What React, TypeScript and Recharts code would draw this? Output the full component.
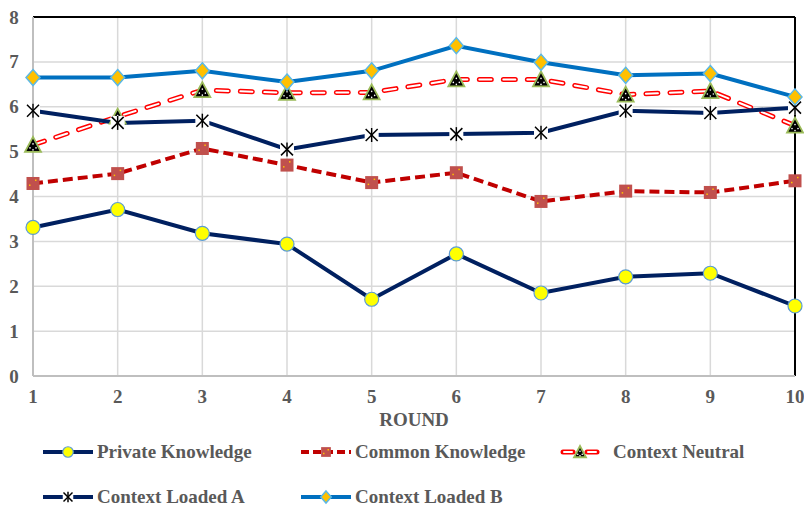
import { LineChart, Line, XAxis, YAxis, CartesianGrid, ReferenceLine, Legend } from 'recharts';

const rounds = [1, 2, 3, 4, 5, 6, 7, 8, 9, 10];
const privateKnowledge = [3.31, 3.71, 3.18, 2.94, 1.71, 2.72, 1.85, 2.21, 2.29, 1.56];
const commonKnowledge = [4.29, 4.51, 5.07, 4.70, 4.31, 4.53, 3.89, 4.12, 4.09, 4.35];
const contextNeutral = [5.15, 5.78, 6.37, 6.31, 6.32, 6.61, 6.61, 6.27, 6.35, 5.58];
const contextLoadedA = [5.91, 5.64, 5.69, 5.05, 5.37, 5.39, 5.42, 5.91, 5.86, 5.98];
const contextLoadedB = [6.65, 6.65, 6.80, 6.55, 6.80, 7.36, 6.99, 6.70, 6.74, 6.22];
const yTicks = [0, 1, 2, 3, 4, 5, 6, 7, 8];

const data = rounds.map((round, i) => ({
  round,
  privateKnowledge: privateKnowledge[i],
  commonKnowledge: commonKnowledge[i],
  contextNeutral: contextNeutral[i],
  contextLoadedA: contextLoadedA[i],
  contextLoadedB: contextLoadedB[i],
}));

const FONT = '"Liberation Serif", serif';
const TEXT = '#595959';
const NAVY = '#002060';

// marker shapes, s scales them down for the legend
const CircleMark = ({ cx, cy, s = 1 }: any) => (
  <ellipse cx={cx} cy={cy} rx={7 * s} ry={7 * s} fill="#FFFF00" stroke="#5B9BD5" strokeWidth={1.2} />
);

const SquareMark = ({ cx, cy, s = 1 }: any) => (
  <g>
    <rect x={cx - 6.5 * s} y={cy - 6.5 * s} width={13 * s} height={13 * s} fill="#C0504D" />
    <rect x={cx + 2 * s} y={cy - 4 * s} width={1.5} height={1.5} fill="#FFC000" />
    <rect x={cx - 4 * s} y={cy + 1 * s} width={1.5} height={1.5} fill="#FFC000" />
  </g>
);

const TriangleMark = ({ cx, cy, s = 1 }: any) => (
  <g>
    <path
      d={`M${cx},${cy - 8 * s} L${cx + 8 * s},${cy + 7 * s} L${cx - 8 * s},${cy + 7 * s} Z`}
      fill="#000"
      stroke="#9BBB59"
      strokeWidth={1.8}
    />
    <circle cx={cx} cy={cy - 1 * s} r={0.8} fill="#fff" />
    <circle cx={cx - 3 * s} cy={cy + 3 * s} r={0.8} fill="#fff" />
    <circle cx={cx + 3 * s} cy={cy + 3 * s} r={0.8} fill="#fff" />
    <circle cx={cx} cy={cy + 5 * s} r={0.8} fill="#fff" />
  </g>
);

const StarMark = ({ cx, cy, s = 1 }: any) => (
  <g stroke="#000" strokeWidth={1.5}>
    <rect x={cx - 7 * s} y={cy - 7 * s} width={14 * s} height={14 * s} fill="#fff" stroke="none" />
    <line x1={cx - 6 * s} y1={cy - 6 * s} x2={cx + 6 * s} y2={cy + 6 * s} />
    <line x1={cx + 6 * s} y1={cy - 6 * s} x2={cx - 6 * s} y2={cy + 6 * s} />
    <line x1={cx} y1={cy - 7 * s} x2={cx} y2={cy + 7 * s} />
  </g>
);

const DiamondMark = ({ cx, cy, s = 1 }: any) => (
  <path
    d={`M${cx},${cy - 8 * s} L${cx + 7 * s},${cy} L${cx},${cy + 8 * s} L${cx - 7 * s},${cy} Z`}
    fill="#FFC000"
    stroke="#5BB8E6"
    strokeWidth={1.5}
  />
);

const legendItems = [
  { name: 'Private Knowledge', x: 43, row: 0, color: NAVY, dash: undefined, mark: CircleMark },
  { name: 'Common Knowledge', x: 301, row: 0, color: '#C00000', dash: '8 4', mark: SquareMark },
  { name: 'Context Neutral', x: 560, row: 0, color: '#FF0000', dash: 'outline', mark: TriangleMark },
  { name: 'Context Loaded A', x: 43, row: 1, color: NAVY, dash: undefined, mark: StarMark },
  { name: 'Context Loaded B', x: 301, row: 1, color: '#0070C0', dash: undefined, mark: DiamondMark },
];

const LegendBlock = () => (
  <div style={{ position: 'relative', width: 804, height: 80 }}>
    {legendItems.map((item) => {
      const Mark = item.mark;
      const top = item.row === 0 ? 14 : 59;
      const w = item.dash === 'outline' ? 40 : 50;
      return (
        <div key={item.name} style={{ position: 'absolute', left: item.x, top, height: 24, display: 'flex', alignItems: 'center' }}>
          <svg width={w} height={24}>
            {item.dash === 'outline' ? (
              <g>
                <line x1={3} y1={12} x2={13} y2={12} stroke="#FF0000" strokeWidth={5} strokeLinecap="round" />
                <line x1={27} y1={12} x2={37} y2={12} stroke="#FF0000" strokeWidth={5} strokeLinecap="round" />
                <line x1={4} y1={12} x2={12} y2={12} stroke="#fff" strokeWidth={2} strokeLinecap="round" />
                <line x1={28} y1={12} x2={36} y2={12} stroke="#fff" strokeWidth={2} strokeLinecap="round" />
              </g>
            ) : (
              <line x1={0} y1={12} x2={w} y2={12} stroke={item.color} strokeWidth={4} strokeDasharray={item.dash} />
            )}
            <Mark cx={w / 2} cy={12} s={0.75} />
          </svg>
          <span
            style={{
              marginLeft: item.dash === 'outline' ? 13 : 4,
              fontFamily: FONT,
              fontWeight: 700,
              fontSize: 19,
              color: TEXT,
              whiteSpace: 'nowrap',
            }}
          >
            {item.name}
          </span>
        </div>
      );
    })}
  </div>
);

const YTick = ({ y, payload }: any) => (
  <text x={14} y={y} dy={6.5} textAnchor="middle" fontFamily={FONT} fontWeight={700} fontSize={19} fill={TEXT}>
    {payload.value}
  </text>
);

const XTick = ({ x, payload }: any) => (
  <text x={x} y={403} textAnchor="middle" fontFamily={FONT} fontWeight={700} fontSize={19} fill={TEXT}>
    {payload.value}
  </text>
);

const App = () => {
  return (
    <div style={{ width: 804, height: 506, background: '#fff' }}>
      <style>{'body{margin:0}'}</style>
      <LineChart width={804} height={506} data={data} margin={{ top: 17, right: 9, left: 0, bottom: 0 }}>
        <CartesianGrid stroke="#D9D9D9" strokeWidth={1.5} />
        <XAxis
          dataKey="round"
          type="number"
          domain={[1, 10]}
          ticks={rounds}
          height={50}
          tickLine={false}
          axisLine={{ stroke: '#BFBFBF', strokeWidth: 2 }}
          tick={<XTick />}
          label={{ value: 'ROUND', position: 'insideBottom', offset: 0, fontFamily: FONT, fontWeight: 700, fontSize: 19, fill: TEXT }}
        />
        <YAxis
          domain={[0, 8]}
          ticks={yTicks}
          width={33}
          tickLine={false}
          axisLine={{ stroke: '#BFBFBF', strokeWidth: 2 }}
          tick={<YTick />}
        />
        <ReferenceLine y={8} stroke="#000" strokeWidth={2} />
        <ReferenceLine x={10} stroke="#000" strokeWidth={2} />
        <Legend
          verticalAlign="bottom"
          wrapperStyle={{ left: 0, bottom: 0, width: 804, height: 80 }}
          content={() => <LegendBlock />}
        />
        <Line dataKey="privateKnowledge" name="Private Knowledge" stroke={NAVY} strokeWidth={4} dot={<CircleMark />} activeDot={false} isAnimationActive={false} />
        <Line dataKey="commonKnowledge" name="Common Knowledge" stroke="#C00000" strokeWidth={4} strokeDasharray="10 5" dot={<SquareMark />} activeDot={false} isAnimationActive={false} />
        {/* outlined dashes: wide red stroke with a thin white stroke on top */}
        <Line dataKey="contextNeutral" name="Context Neutral" stroke="#FF0000" strokeWidth={5} strokeDasharray="12 12" strokeLinecap="round" dot={false} activeDot={false} isAnimationActive={false} />
        <Line dataKey="contextNeutral" name="Context Neutral inner" legendType="none" stroke="#fff" strokeWidth={2} strokeDasharray="12 12" strokeLinecap="round" dot={<TriangleMark />} activeDot={false} isAnimationActive={false} />
        <Line dataKey="contextLoadedA" name="Context Loaded A" stroke={NAVY} strokeWidth={4} dot={<StarMark />} activeDot={false} isAnimationActive={false} />
        <Line dataKey="contextLoadedB" name="Context Loaded B" stroke="#0070C0" strokeWidth={4} dot={<DiamondMark />} activeDot={false} isAnimationActive={false} />
      </LineChart>
    </div>
  );
};

export default App;
